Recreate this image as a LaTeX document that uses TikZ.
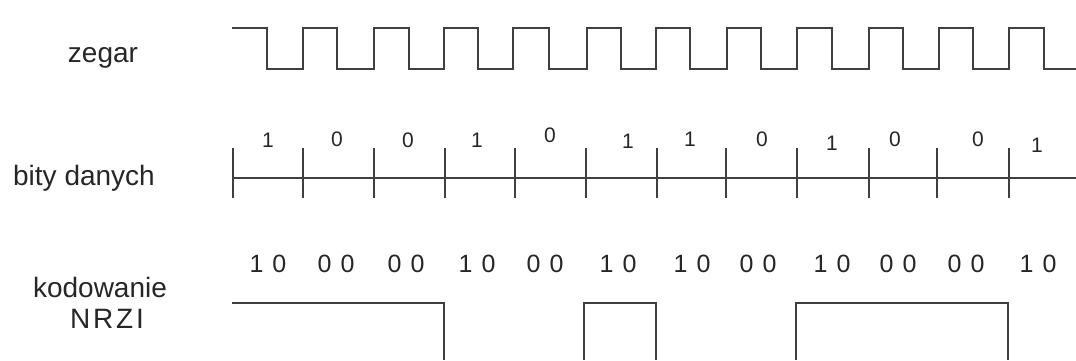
\documentclass[tikz,border=0pt]{standalone}
\usepackage{fontspec}
\setmainfont{Liberation Sans}
\newfontfamily\spacedfont[LetterSpace=10]{Liberation Sans}
\begin{document}
\begin{tikzpicture}[x=1pt,y=-1pt,
  wave/.style={line width=1.6pt, draw=black!75, line join=miter},
  lbl/.style={font=\fontsize{28}{30}\selectfont, text=black!85, inner sep=0pt, anchor=base},
  bitlbl/.style={font=\fontsize{21}{23}\selectfont, text=black!85, inner sep=0pt},
  codelbl/.style={font=\fontsize{25}{27}\selectfont, text=black!85, inner sep=0pt}]
\useasboundingbox (0,0) rectangle (1076,360);
% labels
\node[lbl] (zeg) at (103,62) {zegar};
\node[lbl] (bity) at (84,185) {bity danych};
\node[lbl] (kod) at (100,297) {kodowanie};
\node[lbl, font=\spacedfont\fontsize{28}{30}\selectfont] (nrzi) at (107,328) {NRZI};
% clock
\draw[wave] (232,28) -- (267,28) -- (267,69) -- (303,69) -- (303,28) -- (337,28) -- (337,69) -- (374,69) -- (374,28) -- (409,28) -- (409,69) -- (444,69) -- (444,28) -- (478,28) -- (478,69) -- (513,69) -- (513,28) -- (549,28) -- (549,69) -- (587,69) -- (587,28) -- (621,28) -- (621,69) -- (656,69) -- (656,28) -- (690,28) -- (690,69) -- (727,69) -- (727,28) -- (761,28) -- (761,69) -- (797,69) -- (797,28) -- (832,28) -- (832,69) -- (869,69) -- (869,28) -- (903,28) -- (903,69) -- (939,69) -- (939,28) -- (973,28) -- (973,69) -- (1009,69) -- (1009,28) -- (1044,28) -- (1044,69) -- (1076,69);
% data bits axis
\coordinate (axL) at (233,178);
\coordinate (axR) at (1076,178);
\draw[wave] (axL) -- (axR);
\foreach \x in {233,303,374,445,515,586,657,726,797,869,937,1009}
  \draw[wave] (\x,148) -- (\x,198);
\foreach \x/\y/\t [count=\i] in {268/140/1,337/139/0,408/140/0,477/140/1,550/135/0,628/141/1,690/139/1,762/139/0,832/143/1,895/139/0,978/139/0,1037/145/1}
  \node[bitlbl] (b\i) at (\x,\y) {\t};
% code labels
\foreach \x/\t [count=\i] in {268/1\hspace{0.36em}0,336/0\hspace{0.36em}0,406/0\hspace{0.36em}0,477/1\hspace{0.36em}0,545/0\hspace{0.36em}0,618/1\hspace{0.36em}0,692/1\hspace{0.36em}0,758/0\hspace{0.36em}0,832/1\hspace{0.36em}0,898/0\hspace{0.36em}0,966/0\hspace{0.36em}0,1038/1\hspace{0.36em}0}
  \node[codelbl] (c\i) at (\x,264) {\t};
% NRZI waveform
\draw[wave] (232,303) -- (444,303) -- (444,360);
\draw[wave] (584,360) -- (584,303) -- (656,303) -- (656,360);
\draw[wave] (796,360) -- (796,303) -- (1008,303) -- (1008,360);
\end{tikzpicture}
\end{document}
